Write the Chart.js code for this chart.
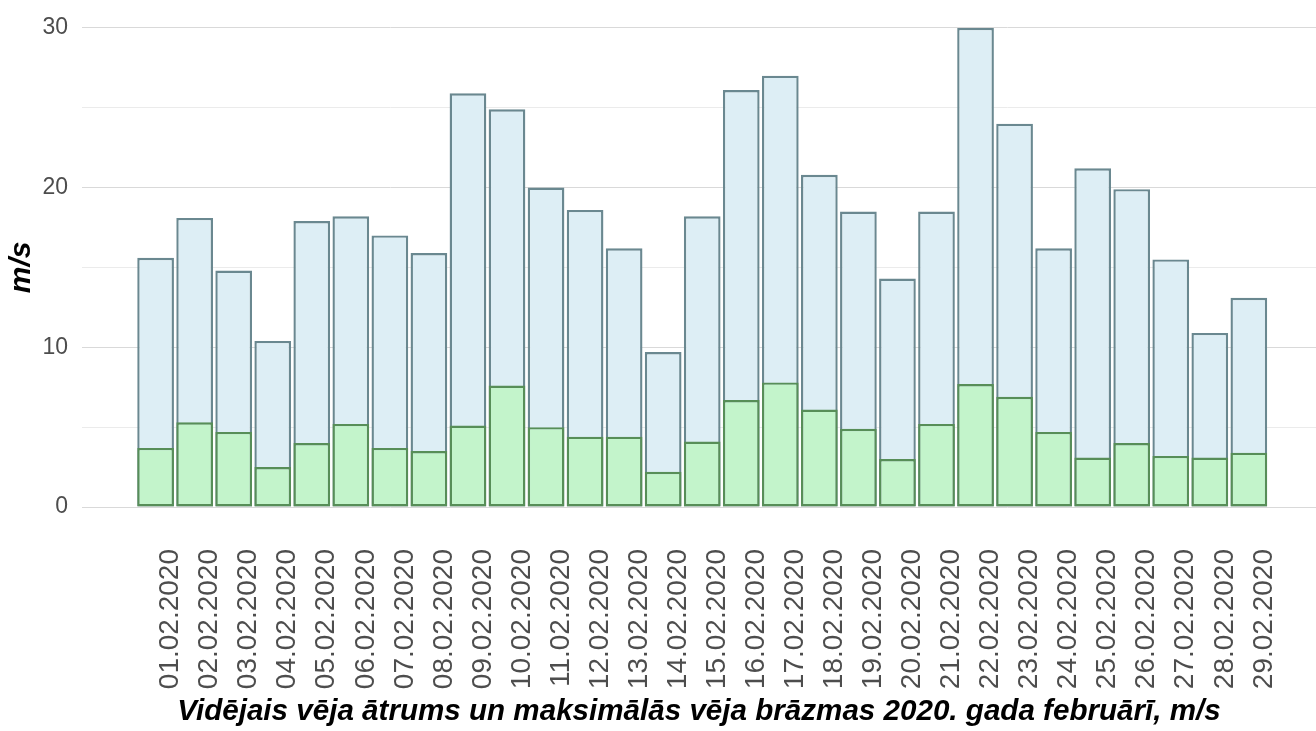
<!DOCTYPE html>
<html>
<head>
<meta charset="utf-8">
<script src="https://cdn.jsdelivr.net/npm/chart.js@4"></script>
<style>
  body { margin: 0; background: #fff; }
</style>
</head>
<body>
<canvas id="chart" width="1316" height="731"></canvas>
<script>
const dates = ["01.02.2020", "02.02.2020", "03.02.2020", "04.02.2020", "05.02.2020", "06.02.2020", "07.02.2020",
  "08.02.2020", "09.02.2020", "10.02.2020", "11.02.2020", "12.02.2020", "13.02.2020", "14.02.2020", "15.02.2020",
  "16.02.2020", "17.02.2020", "18.02.2020", "19.02.2020", "20.02.2020", "21.02.2020", "22.02.2020", "23.02.2020",
  "24.02.2020", "25.02.2020", "26.02.2020", "27.02.2020", "28.02.2020", "29.02.2020"];
const maxGust = [15.6, 18.1, 14.8, 10.4, 17.9, 18.2, 17.0, 15.9, 25.9, 24.9, 20.0, 18.6, 16.2, 9.7, 18.2,
  26.1, 27.0, 20.8, 18.5, 14.3, 18.5, 30.0, 24.0, 16.2, 21.2, 19.9, 15.5, 10.9, 13.1];
const avgWind = [3.7, 5.3, 4.7, 2.5, 4.0, 5.2, 3.7, 3.5, 5.1, 7.6, 5.0, 4.4, 4.4, 2.2, 4.1,
  6.7, 7.8, 6.1, 4.9, 3.0, 5.2, 7.7, 6.9, 4.7, 3.1, 4.0, 3.2, 3.1, 3.4];
const yTicks = [0, 10, 20, 30];

const font = "'Liberation Sans', Arial, sans-serif";

function points(values) {
  return values.map((v, i) => ({ x: i, y: v }));
}

new Chart(document.getElementById("chart"), {
  type: "bar",
  data: {
    datasets: [
      {
        label: "Vidējais vēja ātrums",
        data: points(avgWind),
        backgroundColor: "#c3f4cb",
        borderColor: "#578e58",
        borderWidth: 2.4,
        borderSkipped: false,
        order: 0
      },
      {
        label: "Maksimālās vēja brāzmas",
        data: points(maxGust),
        backgroundColor: "#ddeef5",
        borderColor: "#6a8890",
        borderWidth: 2.4,
        borderSkipped: false,
        order: 1
      }
    ]
  },
  options: {
    responsive: false,
    animation: false,
    layout: { padding: { top: 23, right: 0, left: 0, bottom: 0 } },
    datasets: {
      bar: { grouped: false, categoryPercentage: 1, barPercentage: 0.94 }
    },
    plugins: {
      legend: { display: false },
      tooltip: { enabled: false }
    },
    scales: {
      x: {
        type: "linear",
        min: -1.885,
        max: 29.72,
        offset: false,
        grid: { display: false },
        border: { display: false },
        afterFit: s => {
          s.height = 224;
          s.paddingLeft = 0;
          s.paddingRight = 0;
        },
        ticks: {
          stepSize: 1,
          includeBounds: false,
          autoSkip: false,
          minRotation: 90,
          maxRotation: 90,
          padding: 34,
          labelOffset: 15,
          color: "#4d4d4d",
          font: { family: font, size: 28 },
          callback: v => dates[v] ?? ""
        },
        title: {
          display: true,
          text: "Vidējais vēja ātrums un maksimālās vēja brāzmas 2020. gada februārī, m/s",
          color: "#000",
          font: { family: font, size: 29.6, weight: "bold", style: "italic" },
          padding: { top: 0, bottom: 1 }
        }
      },
      y: {
        min: 0,
        max: 30,
        border: { display: false },
        afterFit: s => { s.width = 82; },
        grid: {
          drawTicks: false,
          lineWidth: 1,
          color: c => (yTicks.includes(c.tick.value) ? "#d9d9d9" : "#ebebeb")
        },
        ticks: {
          stepSize: 5,
          padding: 14,
          color: "#4d4d4d",
          font: { family: font, size: 23 },
          callback: v => (yTicks.includes(v) ? v : "")
        },
        title: {
          display: true,
          text: "m/s",
          color: "#000",
          font: { family: font, size: 30, weight: "bold", style: "italic" },
          padding: { top: 4, bottom: 0 }
        }
      }
    }
  }
});
</script>
</body>
</html>
